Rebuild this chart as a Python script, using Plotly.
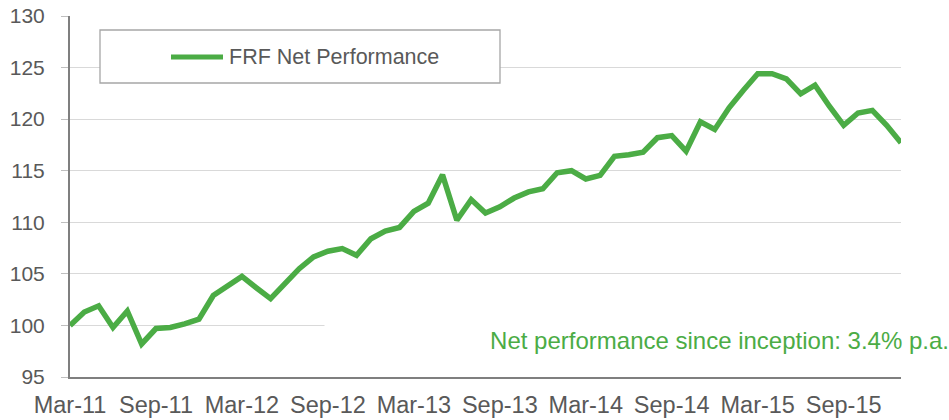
import plotly.graph_objects as go

months = ["Jan", "Feb", "Mar", "Apr", "May", "Jun", "Jul", "Aug", "Sep", "Oct", "Nov", "Dec"]
categories = []
for yr in range(11, 17):
    for m in months:
        categories.append(f"{m}-{yr:02d}")
categories = categories[categories.index("Mar-11"):categories.index("Jan-16") + 1]

net_performance = [
    100.0, 101.3, 101.9, 99.8, 101.4, 98.2, 99.7, 99.8, 100.15, 100.6,
    102.9, 103.9, 104.75, 103.65, 102.6, 104.05, 105.5, 106.65, 107.2, 107.45,
    106.8, 108.4, 109.15, 109.5, 111.05, 111.85, 114.6, 110.2, 112.2, 110.9,
    111.5, 112.35, 112.95, 113.25, 114.8, 115.0, 114.2, 114.55, 116.4, 116.55,
    116.8, 118.2, 118.4, 116.9, 119.75, 119.0, 121.1, 122.8, 124.4, 124.4,
    123.9, 122.45, 123.3, 121.25, 119.4, 120.6, 120.85, 119.4, 117.7,
]
series_name = "FRF Net Performance"
y_ticks = [95, 100, 105, 110, 115, 120, 125, 130]
x_ticks = categories[::6]
note_text = "Net performance since inception: 3.4% p.a."

GREEN = "#4bac45"
TXT = "#595959"
FONT = "Liberation Sans, Arial, Helvetica, sans-serif"

fig = go.Figure()
fig.add_trace(go.Scatter(
    x=categories, y=net_performance, mode="lines", name=series_name,
    line=dict(color=GREEN, width=5.5), showlegend=False,
))

W, H = 949, 420
L, R, T, B = 70, 48, 16, 43
pw, ph = W - L - R, H - T - B

def px(x):
    return (x - L) / pw

def py(y):
    return (H - B - y) / ph

shapes = [
    # legend box
    dict(type="rect", xref="paper", yref="paper",
         x0=px(100), x1=px(500), y0=py(83), y1=py(30),
         line=dict(color="#a6a6a6", width=1.3), fillcolor="white", layer="above"),
    dict(type="line", xref="paper", yref="paper",
         x0=px(171), x1=px(223), y0=py(57), y1=py(57),
         line=dict(color=GREEN, width=5), layer="above"),
]

annotations = [
    dict(xref="paper", yref="paper", x=px(227), y=py(57), xanchor="left", yanchor="middle",
         text=series_name, showarrow=False, font=dict(family=FONT, size=21.5, color=TXT)),
    dict(xref="paper", yref="paper", x=px(950), y=py(340), xanchor="right", yanchor="middle",
         text=note_text, showarrow=False, align="right", width=624, height=44,
         bgcolor="white", borderpad=0,
         font=dict(family=FONT, size=24, color=GREEN)),
]

fig.update_layout(
    width=W, height=H,
    margin=dict(l=L, r=R, t=T, b=B, autoexpand=False),
    paper_bgcolor="white", plot_bgcolor="white",
    font=dict(family=FONT, color=TXT),
    shapes=shapes, annotations=annotations,
    xaxis=dict(
        type="category", range=[0, len(categories) - 1],
        tickmode="array", tickvals=x_ticks, ticktext=x_ticks,
        showgrid=False, zeroline=False, showline=True, linecolor="#7f7f7f", linewidth=2,
        ticks="", tickfont=dict(family=FONT, size=23.5, color=TXT), ticklabelstandoff=6,
    ),
    yaxis=dict(
        range=[95, 130], tickmode="array", tickvals=y_ticks,
        showgrid=True, gridcolor="#d9d9d9", gridwidth=1.3, zeroline=False,
        showline=True, linecolor="#7f7f7f", linewidth=2,
        ticks="outside", ticklen=7, tickcolor="#bfbfbf", tickwidth=1.3,
        tickfont=dict(family=FONT, size=21, color=TXT), ticklabelstandoff=12,
    ),
)

fig.write_html(
    "out.html",
    config={"displayModeBar": False},
    post_script="document.body.style.margin='0';document.body.style.overflow='hidden';",
)
